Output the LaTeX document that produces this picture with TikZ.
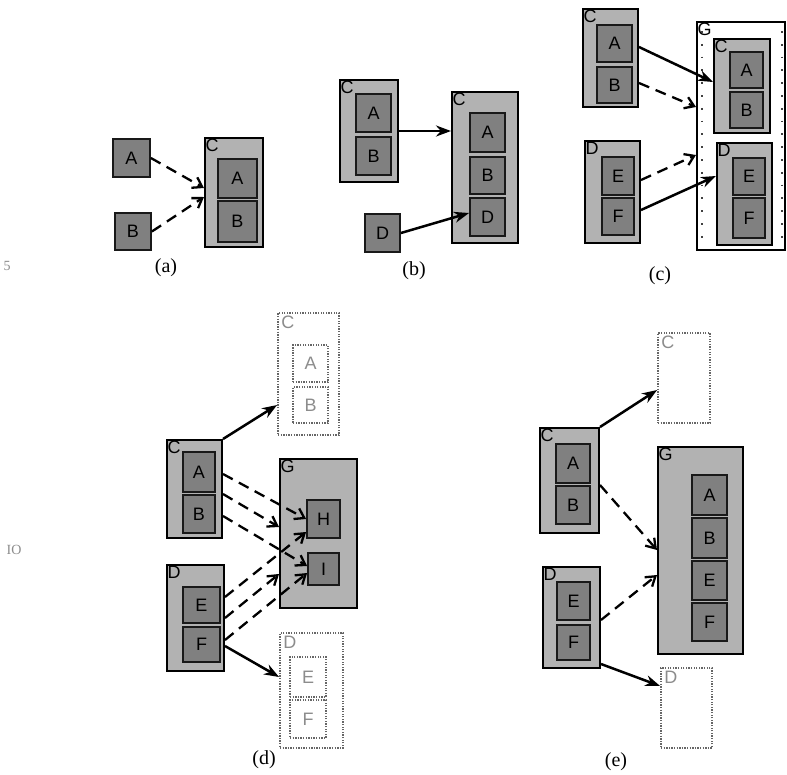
\documentclass[tikz,border=0pt]{standalone}
\usepackage{fontspec}
\setsansfont{Liberation Sans}
\setmainfont{Liberation Serif}
\usetikzlibrary{arrows.meta,calc}
\newcommand\bx[7]{\node[#1, minimum width={(#5-#3)*1pt}, minimum height={(#6-#4)*1pt}] (#2) at ({(#3+#5)/2},{-(#4+#6)/2}) {#7};}
\tikzset{
  letter/.style={font=\sffamily\fontsize{18}{20}\selectfont},
  outer/.style={draw=black, line width=2pt, fill=black!30, inner sep=0pt, letter},
  inner/.style={draw=black!90, line width=1.8pt, fill=black!50, inner sep=0pt, letter},
  gbox/.style={draw=black, line width=2pt, fill=white, inner sep=0pt, letter},
  ghost/.style={draw=black!60, line width=1.8pt, dash pattern=on 1.3pt off 1.3pt, fill=white, inner sep=0pt, letter, text=black!45},
  lab/.style={label={[letter, anchor=north west, inner sep=1.5pt]north west:#1}},
  glab/.style={label={[letter, anchor=north west, inner sep=4pt, text=black!45]north west:#1}},
  solidarr/.style={line width=2.5pt, -{Stealth[length=15pt,width=11pt]}},
  dasharr/.style={line width=2.3pt, dash pattern=on 11pt off 7pt, -{Straight Barb[length=9pt,width=12pt]}},
  dotline/.style={line width=1.8pt, dash pattern=on 1.8pt off 11pt, black!75},
  captxt/.style={font=\rmfamily\fontsize{20}{22}\selectfont},
  marg/.style={font=\rmfamily\fontsize{14}{16}\selectfont, text=black!45}
}
\begin{document}
\begin{tikzpicture}[x=1pt,y=1pt]
\useasboundingbox (0,0) rectangle (787,-774);
\fill[white] (0,0) rectangle (787,-774);

% ---------- (a) ----------
\bx{inner}{aA}{113}{139}{150}{177}{A}
\bx{inner}{aB}{115}{213}{151}{250}{B}
\bx{outer,lab=C}{aC}{205}{138}{263}{247}{}
\bx{inner}{aCA}{218}{159}{257}{198}{A}
\bx{inner}{aCB}{218}{201}{257}{242}{B}
\draw[dasharr] (aA.east) -- (aC.west |- 0,-188);
\draw[dasharr] (aB.east) -- (aC.west |- 0,-197);
\node[captxt] (capa) at (166,-268) {(a)};

% ---------- (b) ----------
\bx{outer,lab=C}{bC1}{340}{80}{398}{182}{}
\bx{inner}{bC1A}{356}{94}{391}{132}{A}
\bx{inner}{bC1B}{356}{137}{391}{175}{B}
\bx{inner}{bD}{365}{214}{400}{252}{D}
\bx{outer,lab=C}{bC2}{452}{92}{518}{243}{}
\bx{inner}{bC2A}{470}{113}{505}{152}{A}
\bx{inner}{bC2B}{470}{157}{505}{194}{B}
\bx{inner}{bC2D}{470}{198}{505}{236}{D}
\draw[solidarr] (bC1.east) -- (bC1.east -| bC2.west);
\draw[solidarr] (bD.east) -- (bC2D.west |- 0,-213);
\node[captxt] (capb) at (414,-271) {(b)};

% ---------- (c) ----------
\bx{outer,lab=C}{cC}{583}{9}{638}{107}{}
\bx{inner}{cCA}{597}{25}{632}{62}{A}
\bx{inner}{cCB}{597}{67}{632}{103}{B}
\bx{outer,lab=D}{cD}{585}{141}{640}{243}{}
\bx{inner}{cDE}{602}{157}{634}{195}{E}
\bx{inner}{cDF}{602}{198}{634}{235}{F}
\bx{gbox,lab=G}{cG}{697}{22}{785}{250}{}
\draw[dotline] ($(cG.north west)+(6,-10)$) -- ($(cG.south west)+(6,4)$);
\draw[dotline] ($(cG.north east)+(-4,-10)$) -- ($(cG.south east)+(-4,4)$);
\bx{outer,lab=C}{cGC}{714}{39}{770}{133}{}
\bx{inner}{cGCA}{730}{52}{763}{88}{A}
\bx{inner}{cGCB}{730}{92}{763}{128}{B}
\bx{outer,lab=D}{cGD}{717}{143}{772}{245}{}
\bx{inner}{cGDE}{733}{158}{765}{195}{E}
\bx{inner}{cGDF}{733}{198}{765}{238}{F}
\draw[solidarr] (cC.east |- 0,-47) -- (cGC.west |- 0,-82);
\draw[dasharr] (cC.east |- 0,-83) -- (cG.west |- 0,-107);
\draw[dasharr] (cD.east |- 0,-180) -- (cG.west |- 0,-155);
\draw[solidarr] (cD.east |- 0,-210) -- (cGD.west |- 0,-176);
\node[captxt] (capc) at (660,-276) {(c)};

% ---------- (d) ----------
\bx{ghost,glab=C}{dGC}{278}{313}{339}{435}{}
\bx{ghost}{dGCA}{293}{345}{328}{382}{A}
\bx{ghost}{dGCB}{293}{387}{328}{423}{B}
\bx{outer,lab=C}{dC}{167}{440}{222}{538}{}
\bx{inner}{dCA}{183}{452}{215}{492}{A}
\bx{inner}{dCB}{183}{495}{215}{533}{B}
\bx{outer,lab=G}{dG}{280}{459}{357}{608}{}
\bx{inner}{dGH}{307}{500}{340}{538}{H}
\bx{inner}{dGI}{308}{553}{339}{585}{I}
\bx{outer,lab=D}{dD}{167}{565}{224}{671}{}
\bx{inner}{dDE}{183}{587}{220}{623}{E}
\bx{inner}{dDF}{183}{627}{220}{662}{F}
\bx{ghost,glab=D}{dGD}{280}{633}{343}{748}{}
\bx{ghost}{dGDE}{290}{657}{326}{697}{E}
\bx{ghost}{dGDF}{290}{700}{326}{738}{F}
\draw[solidarr] (dC.north east) -- (dGC.west |- 0,-405);
\draw[solidarr] (dD.east |- 0,-646) -- (dGD.west |- 0,-677);
\draw[dasharr] (dC.east |- 0,-474) -- (dGH.west |- 0,-519);
\draw[dasharr] (dC.east |- 0,-494) -- (dG.west |- 0,-527);
\draw[dasharr] (dC.east |- 0,-516) -- (dGI.west |- 0,-566);
\draw[dasharr] (dD.east |- 0,-597) -- (dGH.west |- 0,-532);
\draw[dasharr] (dD.east |- 0,-618) -- (dG.west |- 0,-574);
\draw[dasharr] (dD.east |- 0,-640) -- (dGI.west |- 0,-573);
\node[captxt] (capd) at (264,-760) {(d)};

% ---------- (e) ----------
\bx{ghost,glab=C}{eGC}{658}{333}{710}{423}{}
\bx{outer,lab=C}{eC}{540}{428}{599}{533}{}
\bx{inner}{eCA}{556}{444}{590}{483}{A}
\bx{inner}{eCB}{556}{486}{590}{524}{B}
\bx{outer,lab=G}{eG}{658}{447}{743}{654}{}
\bx{inner}{eGA}{692}{475}{727}{515}{A}
\bx{inner}{eGB}{692}{518}{727}{558}{B}
\bx{inner}{eGE}{692}{561}{727}{600}{E}
\bx{inner}{eGF}{692}{603}{727}{641}{F}
\bx{outer,lab=D}{eD}{543}{567}{600}{668}{}
\bx{inner}{eDE}{557}{582}{590}{620}{E}
\bx{inner}{eDF}{557}{625}{590}{660}{F}
\bx{ghost,glab=D}{eGD}{661}{668}{712}{748}{}
\draw[solidarr] (eC.north east) -- (eGC.west |- 0,-390);
\draw[dasharr] (eC.east |- 0,-485) -- (eG.west |- 0,-550);
\draw[dasharr] (eD.east |- 0,-620) -- (eG.west |- 0,-575);
\draw[solidarr] (eD.east |- 0,-664) -- (eGD.west |- 0,-686);
\node[captxt] (cape) at (616,-762) {(e)};

% margin numbers
\node[marg] (m5) at (7,-266) {5};
\node[marg] (m10) at (14,-550) {IO};
\end{tikzpicture}
\end{document}
